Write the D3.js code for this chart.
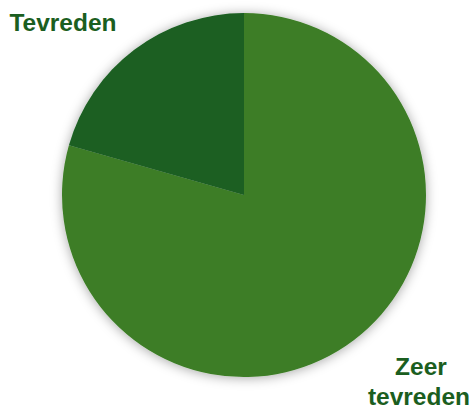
<!DOCTYPE html>
<html>
<head>
<meta charset="utf-8">
<script src="https://cdn.jsdelivr.net/npm/d3@7"></script>
<style>
  body { margin: 0; background: #fff; }
  .label {
    font-family: "Liberation Sans", Arial, sans-serif;
    font-weight: 700;
    font-size: 24.5px;
    fill: #1b5e20;
  }
</style>
</head>
<body>
<svg id="chart" width="476" height="410"></svg>
<script>
  const categories = ["Zeer tevreden", "Tevreden"];
  const values = [79.4, 20.6];
  const colors = ["#3c7d25", "#1a5e21"];

  const svg = d3.select("#chart");
  const cx = 244, cy = 195, radius = 182;

  const defs = svg.append("defs");
  const f = defs.append("filter").attr("id", "shadow")
    .attr("x", "-20%").attr("y", "-20%").attr("width", "140%").attr("height", "140%");
  f.append("feDropShadow")
    .attr("dx", 0).attr("dy", 1)
    .attr("stdDeviation", 6)
    .attr("flood-color", "#000")
    .attr("flood-opacity", 0.35);

  const pie = d3.pie().sort(null).value(d => d.value);
  const arc = d3.arc().innerRadius(0).outerRadius(radius);
  const data = categories.map((c, i) => ({ name: c, value: values[i] }));

  const g = svg.append("g")
    .attr("transform", `translate(${cx},${cy})`)
    .attr("filter", "url(#shadow)");

  g.selectAll("path")
    .data(pie(data))
    .join("path")
    .attr("d", arc)
    .attr("fill", (d, i) => colors[i]);

  // labels
  svg.append("text").attr("class", "label")
    .attr("x", 63).attr("y", 31)
    .attr("text-anchor", "middle")
    .text("Tevreden");

  const t = svg.append("text").attr("class", "label")
    .attr("text-anchor", "middle");
  t.append("tspan").attr("x", 421).attr("y", 375).text("Zeer");
  t.append("tspan").attr("x", 419).attr("y", 405).text("tevreden");
</script>
</body>
</html>
